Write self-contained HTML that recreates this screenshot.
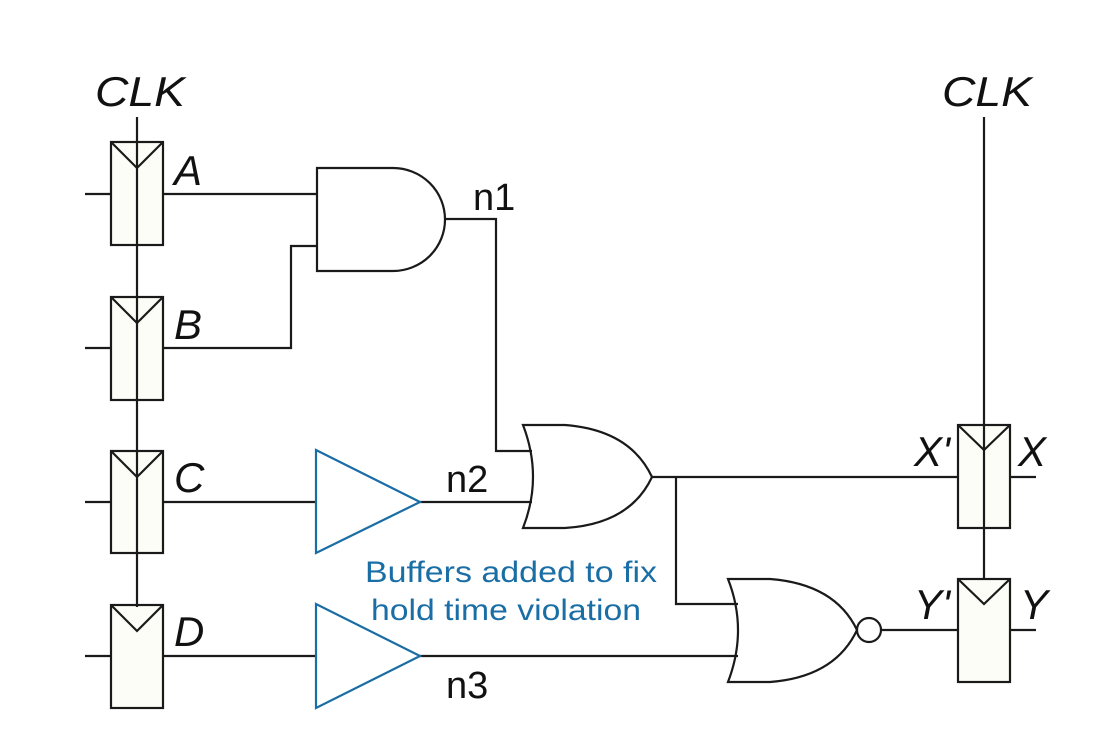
<!DOCTYPE html>
<html><head><style>body{margin:0;background:#fff}svg{display:block}</style></head><body>
<svg width="1110" height="730" xmlns="http://www.w3.org/2000/svg">
<g fill="none" stroke="#1a1a1a" stroke-width="2.2">
<rect x="111" y="142" width="52" height="103" fill="#fdfdf7"/>
<rect x="111" y="297" width="52" height="103" fill="#fdfdf7"/>
<rect x="111" y="451" width="52" height="102" fill="#fdfdf7"/>
<rect x="111" y="605" width="52" height="103" fill="#fdfdf7"/>
<line x1="137" y1="117" x2="137" y2="607"/>
<polyline points="111,142 137,168 163,142"/>
<polyline points="111,297 137,323 163,297"/>
<polyline points="111,451 137,477 163,451"/>
<polyline points="111,605 137,631 163,605"/>
<line x1="85" y1="194" x2="111" y2="194"/>
<line x1="85" y1="348" x2="111" y2="348"/>
<line x1="85" y1="502" x2="111" y2="502"/>
<line x1="85" y1="656" x2="111" y2="656"/>
<line x1="163" y1="194" x2="317" y2="194"/>
<polyline points="163,348 291,348 291,246 317,246"/>
<path d="M317,168 L393,168 A52,51.5 0 0 1 393,271 L317,271 Z"/>
<polyline points="445,219 496,219 496,451 532,451"/>
<line x1="163" y1="502" x2="316" y2="502"/>
<line x1="163" y1="656" x2="316" y2="656"/>
<line x1="420" y1="502" x2="532" y2="502"/>
<line x1="420" y1="656" x2="738" y2="656"/>
<path d="M523,425 L565,425 Q630,430 652,477 Q630,524 565,528 L523,528 Q543,477 523,425 Z"/>
<polyline points="652,477 958,477"/>
<polyline points="676,477 676,604 738,604"/>
<path d="M728,579 L770,579 Q835,584 857,630 Q835,677 770,682 L728,682 Q748,630 728,579 Z"/>
<circle cx="869" cy="630" r="12"/>
<line x1="881" y1="630" x2="958" y2="630"/>
<rect x="958" y="425" width="52" height="103" fill="#fdfdf7"/>
<rect x="958" y="579" width="52" height="103" fill="#fdfdf7"/>
<line x1="984" y1="117" x2="984" y2="579"/>
<polyline points="958,425 984,450 1010,425"/>
<polyline points="958,579 984,604 1010,579"/>
<line x1="1010" y1="477" x2="1036" y2="477"/>
<line x1="1010" y1="630" x2="1036" y2="630"/>
</g>
<g fill="none" stroke="#1a6ea6" stroke-width="2.2">
<polygon points="316,450 420,502 316,553"/>
<polygon points="316,604 420,656 316,708"/>
</g>
<g font-family="Liberation Sans, sans-serif" fill="#111" font-size="42">
<text x="95" y="106" font-style="italic" textLength="90" lengthAdjust="spacingAndGlyphs">CLK</text>
<text x="942" y="106" font-style="italic" textLength="90" lengthAdjust="spacingAndGlyphs">CLK</text>
<text x="174" y="185" font-style="italic">A</text>
<text x="174" y="339" font-style="italic">B</text>
<text x="174" y="492" font-style="italic">C</text>
<text x="174" y="646" font-style="italic">D</text>
<text x="950" y="466" font-style="italic" text-anchor="end">X'</text>
<text x="1018" y="466" font-style="italic">X</text>
<text x="950" y="619" font-style="italic" text-anchor="end">Y'</text>
<text x="1020" y="619" font-style="italic">Y</text>
<text x="473" y="210" font-size="38">n1</text>
<text x="446" y="492" font-size="38">n2</text>
<text x="446" y="698" font-size="38">n3</text>
</g>
<g font-family="Liberation Sans, sans-serif" fill="#1a6ea6" font-size="30" text-anchor="middle">
<text x="511" y="582" textLength="292" lengthAdjust="spacingAndGlyphs">Buffers added to fix</text>
<text x="506" y="620" textLength="270" lengthAdjust="spacingAndGlyphs">hold time violation</text>
</g>
</svg>
</body></html>
